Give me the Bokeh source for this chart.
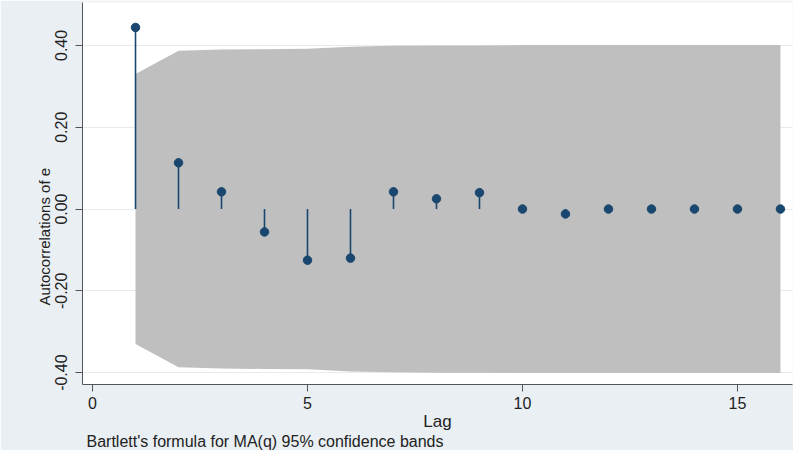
from bokeh.plotting import figure
from bokeh.models import NumeralTickFormatter, FixedTicker, Title, ColumnDataSource, Range1d
from bokeh.embed import file_html
from bokeh.resources import INLINE

lags = list(range(1, 17))
acf = [0.444, 0.113, 0.042, -0.056, -0.125, -0.120, 0.042, 0.025, 0.040,
       0.000, -0.012, 0.000, 0.000, 0.000, 0.000, 0.000]
band = [0.330, 0.387, 0.390, 0.391, 0.392, 0.397, 0.399, 0.400, 0.400,
        0.401, 0.401, 0.401, 0.401, 0.401, 0.401, 0.401]
band_lo = [-b for b in band]
zeros = [0.0] * len(lags)

x_ticks = [0, 5, 10, 15]
y_ticks = [-0.4, -0.2, 0.0, 0.2, 0.4]

navy = "#1a476f"
bg = "#e9eff2"

p = figure(width=793, height=450, output_backend="svg", toolbar_location=None,
           x_range=Range1d(-0.233, 16.28), y_range=Range1d(-0.429, 0.505),
           min_border_left=82, min_border_right=1, min_border_top=2, min_border_bottom=66,
           background_fill_color="white", border_fill_color=bg)
p.outline_line_color = None

src = ColumnDataSource(dict(lag=lags, acf=acf, hi=band, lo=band_lo, zero=zeros))
p.varea(x="lag", y1="lo", y2="hi", source=src, fill_color="#bfbfbf")
p.segment(x0="lag", y0="zero", x1="lag", y1="acf", source=src, line_color=navy, line_width=1.6)
p.scatter(x="lag", y="acf", source=src, size=8.5, fill_color=navy, line_color=navy)

font = "Liberation Sans"
p.xaxis.ticker = FixedTicker(ticks=x_ticks)
p.yaxis.ticker = FixedTicker(ticks=y_ticks)
p.yaxis.formatter = NumeralTickFormatter(format="0.00")
p.yaxis.major_label_orientation = "vertical"
for ax in (p.xaxis, p.yaxis):
    ax.axis_line_color = "#555555"
    ax.major_tick_line_color = "#555555"
    ax.minor_tick_line_color = None
    ax.major_tick_out = 7
    ax.major_tick_in = 0
    ax.major_label_text_font = font
    ax.major_label_text_font_size = "16px"
    ax.major_label_text_color = "#222222"
    ax.axis_label_text_font = font
    ax.axis_label_text_font_style = "normal"
    ax.axis_label_text_color = "#222222"
p.yaxis.major_label_standoff = 8
p.xaxis.major_label_standoff = 5
p.xaxis.axis_label = "Lag"
p.xaxis.axis_label_text_font_size = "17px"
p.xaxis.axis_label_standoff = 0
p.xgrid.grid_line_color = None
p.ygrid.grid_line_color = "#e6ebee"

ylab = Title(text="Autocorrelations of e", align="left", offset=79,
             text_font=font, text_font_size="15px", text_font_style="normal",
             text_color="#222222", standoff=0)
p.add_layout(ylab, "left")

note = Title(text="Bartlett's formula for MA(q) 95% confidence bands", align="left",
             text_font=font, text_font_size="16px", text_font_style="normal",
             text_color="#222222", offset=4, standoff=-5)
p.add_layout(note, "below")

open("out.html", "w").write(file_html(p, INLINE))
